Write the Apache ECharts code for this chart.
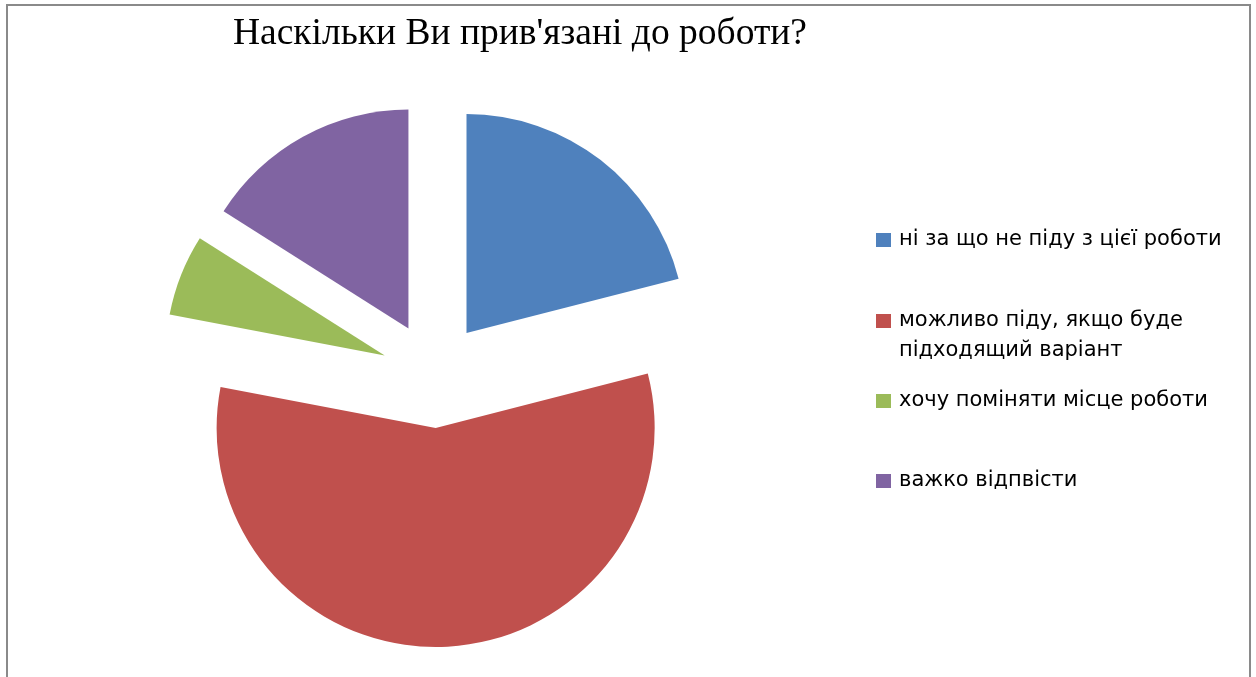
<!DOCTYPE html>
<html>
<head>
<meta charset="utf-8">
<style>
  html, body { margin: 0; padding: 0; background: #ffffff; }
  #chart { width: 1256px; height: 677px; }
</style>
<script src="https://cdn.jsdelivr.net/npm/echarts@6/dist/echarts.min.js"></script>
</head>
<body>
<div id="chart"></div>
<script>
// Survey answers and their shares (%)
const categories = [
  'ні за що не піду з цієї роботи',
  'можливо піду, якщо буде підходящий варіант',
  'хочу поміняти місце роботи',
  'важко відпвісти'
];
const legendLabels = [
  'ні за що не піду з цієї роботи',
  'можливо піду, якщо буде\nпідходящий варіант',
  'хочу поміняти місце роботи',
  'важко відпвісти'
];
const values = [21, 57, 6, 16];
const colors = ['#4F81BD', '#C0504D', '#9BBB59', '#8064A2'];
const titleText = "Наскільки Ви прив'язані до роботи?";

const chart = echarts.init(document.getElementById('chart'), null, { renderer: 'canvas' });

const legendFont = {
  fontFamily: 'DejaVu Sans', fontSize: 21, color: '#000000', lineHeight: 30,
  padding: [0, 0, 0, 3]
};
// top edge of each legend entry
const legendTops = [225, 306, 386, 466];

const legends = categories.map((name, i) => ({
  show: true,
  orient: 'vertical',
  left: 876,
  top: legendTops[i],
  data: [name],
  selectedMode: false,
  itemWidth: 15,
  itemHeight: i === 1 ? 44 : 14,
  itemGap: 0,
  padding: 0,
  // the two-line entry keeps its marker beside the first line
  icon: i === 1 ? 'path://M0,0H15V14H0Z M0,44L0.001,44Z' : 'rect',
  formatter: () => legendLabels[i],
  textStyle: legendFont
}));

chart.setOption({
  animation: false,
  color: colors,
  title: {
    text: titleText,
    left: 515,
    textAlign: 'center',
    top: 10,
    textStyle: { fontFamily: 'Liberation Serif', fontSize: 37.5, fontWeight: 'normal', color: '#000000' }
  },
  legend: legends,
  graphic: [{
    type: 'rect',
    silent: true,
    shape: { x: 7, y: 5, width: 1243, height: 700 },
    style: { fill: 'none', stroke: '#8a8a8a', lineWidth: 2 }
  }],
  series: [{
    type: 'pie',
    center: [434, 375],
    radius: 219,
    startAngle: 90,
    clockwise: true,
    selectedMode: 'multiple',
    selectedOffset: 53,
    label: { show: false },
    labelLine: { show: false },
    itemStyle: { borderWidth: 0 },
    select: { itemStyle: { borderWidth: 0 } },
    emphasis: { disabled: true },
    data: categories.map((name, i) => ({
      name: name,
      value: values[i],
      selected: true,
      itemStyle: { color: colors[i] },
      select: { itemStyle: { color: colors[i], borderWidth: 0 } }
    }))
  }]
});
</script>
</body>
</html>
